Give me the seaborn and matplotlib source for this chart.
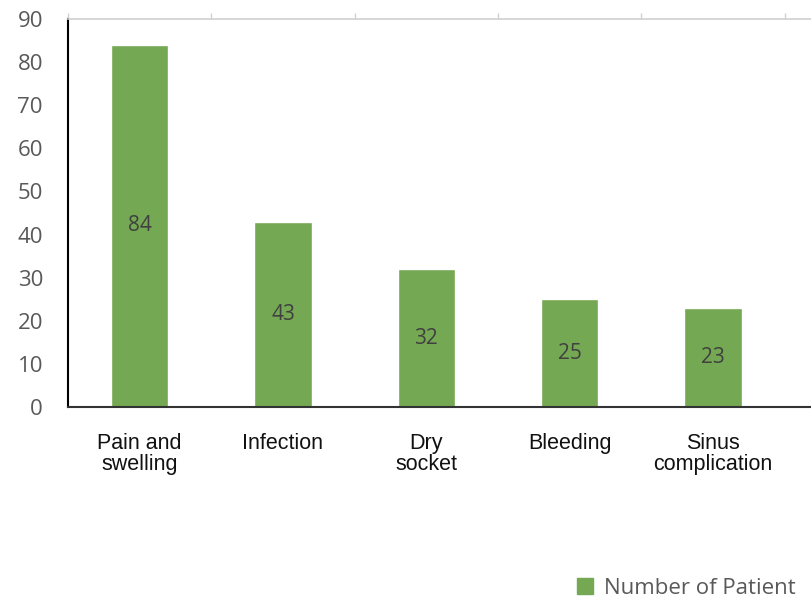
import pandas as pd
import matplotlib.pyplot as plt
import seaborn as sns
from matplotlib.patches import Patch

# data
complications = ['Pain and\nswelling', 'Infection', 'Dry\nsocket', 'Bleeding', 'Sinus\ncomplication']
patients = [84, 43, 32, 25, 23]
series_name = 'Number of Patient'

bar_color = '#74A852'
gray_text = '#595959'

df = pd.DataFrame({'complication': complications, 'patients': patients})

sns.set_style('white')
plt.rcParams['font.family'] = ['Open Sans', 'DejaVu Sans']

fig = plt.figure(figsize=(8.11, 5.97), dpi=100)
ax = fig.add_axes([68 / 811, 190 / 597, 743 / 811, 388 / 597])

sns.barplot(data=df, x='complication', y='patients', color=bar_color,
            width=0.4, saturation=1, ax=ax)

# value labels in the middle of each bar
for i, v in enumerate(patients):
    ax.text(i, v / 2, str(v), ha='center', va='center', fontsize=15, color='#404040')

ax.set_xlim(-0.5, -0.5 + 743 / 143.3)
ax.set_ylim(0, 90)
ax.set_yticks(range(0, 91, 10))
ax.set_xlabel('')
ax.set_ylabel('')

ax.tick_params(axis='y', length=0, pad=18, labelsize=16, labelcolor=gray_text)
ax.tick_params(axis='x', length=0, pad=19)
for lab in ax.get_xticklabels():
    lab.set_fontfamily(['Liberation Sans', 'DejaVu Sans'])
    lab.set_fontsize(15.5)
    lab.set_color('#111111')
    lab.set_linespacing(0.95)
    lab.set_verticalalignment('top')

# spines
ax.spines['right'].set_visible(False)
ax.spines['left'].set_color('black')
ax.spines['left'].set_linewidth(1.5)
ax.spines['bottom'].set_color('#333333')
ax.spines['bottom'].set_linewidth(1.5)
ax.spines['top'].set_color('#d0d0d0')
ax.spines['top'].set_linewidth(1.2)

# small marks on the top line between categories
top = ax.secondary_xaxis('top')
top.set_xticks([-0.5, 0.5, 1.5, 2.5, 3.5, 4.5])
top.set_xticklabels([])
top.tick_params(length=4, color='#d0d0d0', width=1)
top.spines['top'].set_visible(False)

handle = Patch(facecolor=bar_color, edgecolor=bar_color)
fig.legend([handle], [series_name], loc='center left',
           bbox_to_anchor=(557 / 811, 1 - 588 / 597), frameon=False,
           fontsize=16, labelcolor=gray_text, handlelength=0.7, handleheight=0.7,
           handletextpad=0.5)

fig.savefig('out.png', dpi=100)
